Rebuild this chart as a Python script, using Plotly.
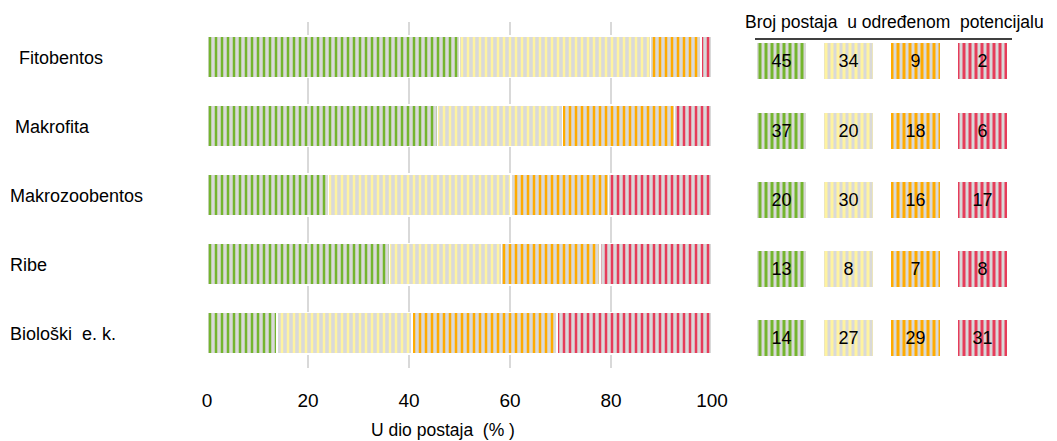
import plotly.graph_objects as go

categories = ["Fitobentos", "Makrofita", "Makrozoobentos", "Ribe", "Biološki  e. k."]
good = [45, 37, 20, 13, 14]
moderate = [34, 20, 30, 8, 27]
poor = [9, 18, 16, 7, 29]
bad = [2, 6, 17, 8, 31]
series = [good, moderate, poor, bad]
colors = ["#74b52e", "#fff3a0", "#ffab00", "#e63c5a"]
xticks = [0, 20, 40, 60, 80, 100]
label_shift = [9, 5, 0, 0, 0]

FONT = "Liberation Sans, Arial"
GREY = "#d9d9d9"

totals = [sum(s[i] for s in series) for i in range(len(categories))]

fig = go.Figure()

for k, s in enumerate(series):
    pct = [v / t * 100 for v, t in zip(s, totals)]
    fig.add_trace(go.Bar(
        y=categories, x=pct, orientation="h", width=0.6,
        marker=dict(color=GREY, line=dict(color="white", width=1.5),
                    pattern=dict(shape="|", fgcolor=colors[k], bgcolor=GREY,
                                 size=6, solidity=0.42, fillmode="replace",
                                 fgopacity=1)),
        showlegend=False, hoverinfo="skip", xaxis="x", yaxis="y",
    ))

for k, s in enumerate(series):
    fig.add_trace(go.Bar(
        y=categories, x=[0.73] * len(categories), base=[k] * len(categories),
        orientation="h", width=0.52, offset=-0.19,
        marker=dict(color=GREY, line=dict(width=0),
                    pattern=dict(shape="|", fgcolor=colors[k], bgcolor=GREY,
                                 size=6, solidity=0.5, fillmode="replace",
                                 fgopacity=1)),
        text=[str(v) for v in s], textposition="inside", insidetextanchor="middle",
        textangle=0, textfont=dict(family=FONT, size=18, color="black"),
        showlegend=False, hoverinfo="skip", xaxis="x2", yaxis="y",
    ))

for i, c in enumerate(categories):
    fig.add_annotation(text=c, xref="paper", x=(8 - 207) / 818, xanchor="left",
                       yref="y", y=c, showarrow=False, xshift=label_shift[i],
                       yshift=-1, font=dict(family=FONT, size=18, color="black"))

fig.add_annotation(text="Broj postaja  u određenom  potencijalu", xref="paper",
                   x=(743 - 207) / 818, xanchor="left", yref="paper",
                   y=(368 - 22) / 346, yanchor="middle", showarrow=False,
                   font=dict(family=FONT, size=17.5, color="black"))
fig.add_shape(type="line", xref="paper", yref="paper",
              x0=(755 - 207) / 818, x1=(1012 - 207) / 818,
              y0=(368 - 39) / 346, y1=(368 - 39) / 346,
              line=dict(color="black", width=1.5))

fig.add_annotation(text="U dio postaja  (% )", xref="paper",
                   x=(443 - 207) / 818, xanchor="center", yref="paper",
                   y=(368 - 430) / 346, yanchor="middle", showarrow=False,
                   font=dict(family=FONT, size=17.5, color="black"))

# the page body adds an 8px margin, so the figure is drawn 8px smaller
fig.update_layout(
    width=1049, height=433, barmode="stack",
    margin=dict(l=199, r=32, t=14, b=73),
    plot_bgcolor="white", paper_bgcolor="white",
    xaxis=dict(domain=[0, 505 / 818], range=[0, 100], tickvals=xticks,
               showgrid=True, gridcolor="#d9d9d9", gridwidth=2, zeroline=False,
               showline=False, ticks="", ticklabelstandoff=19,
               tickfont=dict(family=FONT, size=19, color="black")),
    xaxis2=dict(domain=[(757 - 207) / 818, 1.0], range=[0, 4], visible=False),
    yaxis=dict(autorange="reversed", showticklabels=False, showgrid=False,
               zeroline=False, showline=False, ticks=""),
    font=dict(family=FONT, color="black"),
)

fig.write_html("out.html")
